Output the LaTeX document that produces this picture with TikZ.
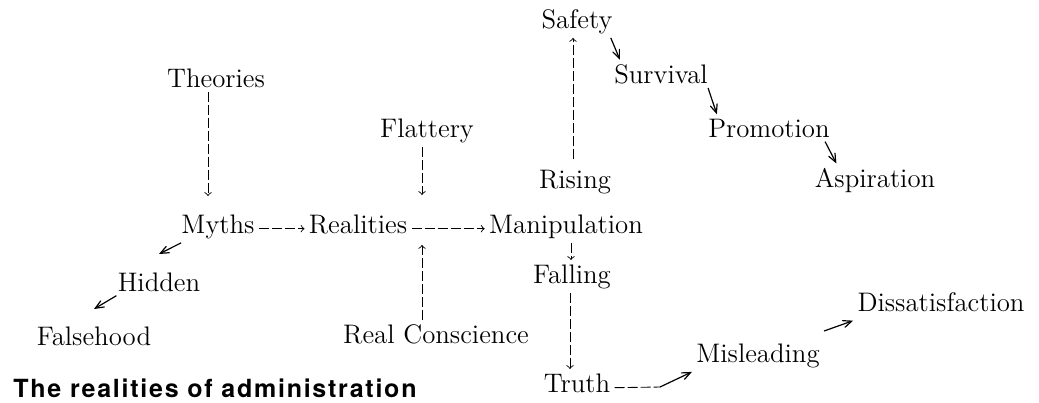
\documentclass[tikz,border=0pt]{standalone}
\usepackage{fontspec}
\usepackage{tikz}
\usetikzlibrary{arrows,positioning,calc}
\newfontfamily\capfont[LetterSpace=7]{TeX Gyre Heros}
\tikzstyle{word} = [inner sep=2pt, anchor=base, font=\fontsize{13.4}{15}\selectfont]
\tikzstyle{dasharrow} = [->, >=to, line width=0.45pt, dash pattern=on 5pt off 1.5pt]
\tikzstyle{dashline} = [line width=0.45pt, dash pattern=on 5pt off 1.5pt]
\tikzstyle{slantarrow} = [->, >=angle 45, semithick]

\begin{document}
\begin{tikzpicture}[x=0.5pt, y=-0.5pt]
\useasboundingbox (0,0) rectangle (1039,402);

% Upper chain
\node[word] (safety) at (577, 28) {Safety};
\node[word] (survival) at (661, 83) {Survival};
\node[word] (promotion) at (769, 137) {Promotion};
\node[word] (aspiration) at (875, 187) {Aspiration};
\node[word] (rising) at (575, 188) {Rising};

% Middle row
\node[word] (theories) at (216, 87) {Theories};
\node[word] (flattery) at (427, 137) {Flattery};
\node[word] (myths) at (218, 233) {Myths};
\node[word] (realities) at (358, 233) {Realities};
\node[word] (manip) at (566, 233) {Manipulation};

% Lower part
\node[word] (hidden) at (159, 291) {Hidden};
\node[word] (falling) at (572, 283) {Falling};
\node[word] (falsehood) at (94, 345) {Falsehood};
\node[word] (conscience) at (436, 343) {Real Conscience};
\node[word] (dissat) at (941, 311) {Dissatisfaction};
\node[word] (misleading) at (758, 362) {Misleading};
\node[word] (truth) at (577, 392) {Truth};
\coordinate (tm) at (660, 387);

% Caption
\node[word, anchor=base west, font=\capfont\bfseries\fontsize{12.5}{15}\selectfont] (caption) at (9, 397) {The realities of administration};

% Dashed arrows
\draw[dasharrow, shorten >=7pt] ([xshift=-4pt]theories.south) -- ([xshift=-4pt]theories.south |- myths.north);
\draw[dasharrow, shorten >=7.5pt] ([xshift=-2.5pt]flattery.south) -- ([xshift=-2.5pt]flattery.south |- realities.north);
\draw[dasharrow, shorten >=3.5pt] ([xshift=-7pt]conscience.north) -- ([xshift=-7pt]conscience.north |- realities.south);
\draw[dasharrow] (myths.mid east) -- (realities.mid west);
\draw[dasharrow] (realities.mid east) -- (manip.mid west);
\draw[dasharrow, shorten <=3pt] ([xshift=-1pt]rising.north) -- ([xshift=-1pt]rising.north |- safety.south);
\draw[dasharrow] ([xshift=2.5pt]manip.south) -- ([xshift=2.5pt]manip.south |- falling.north);
\draw[dasharrow] ([xshift=-1pt]falling.south) -- ([xshift=-1pt]falling.south |- truth.north);
\draw[dashline] (truth.mid east) -- (tm);

% Slanted arrows
\draw[slantarrow] (tm) -- (misleading.south west);
\draw[slantarrow] ([xshift=-3pt]safety.south east) -- ([xshift=5pt]survival.north west);
\draw[slantarrow] ([xshift=-2pt]survival.south east) -- ([xshift=6.5pt]promotion.north west);
\draw[slantarrow] ([xshift=-4.5pt]promotion.south east) -- ([xshift=13pt]aspiration.north west);
\draw[slantarrow] ([xshift=2pt]myths.south west) -- ([yshift=7pt]hidden.north);
\draw[slantarrow] ([xshift=1.5pt]hidden.south west) -- ([yshift=6.5pt]falsehood.north);
\draw[slantarrow] ([yshift=4pt]misleading.north east) -- ([yshift=-2.5pt]dissat.south west);
\end{tikzpicture}
\end{document}
